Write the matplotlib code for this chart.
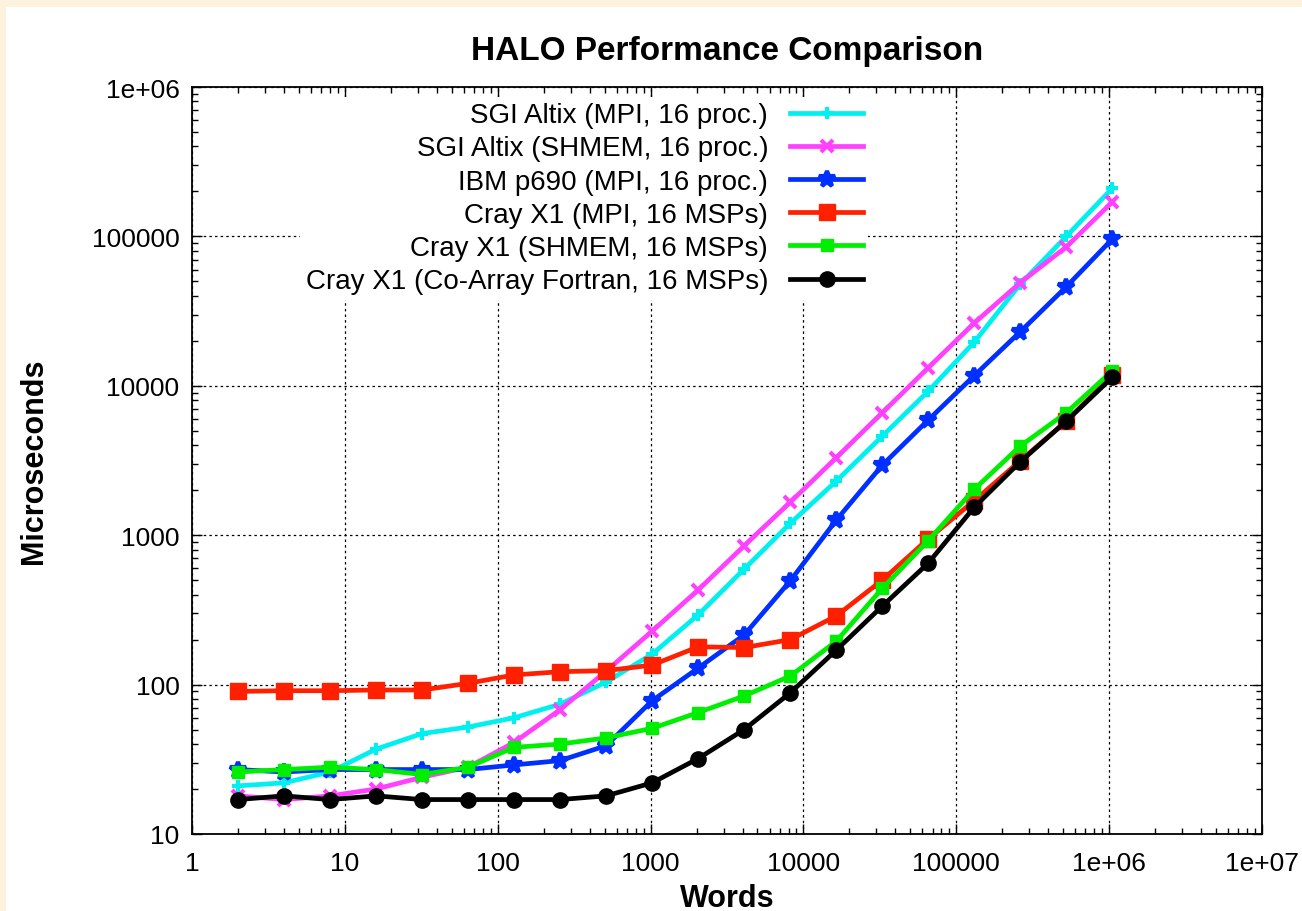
import numpy as np
import matplotlib.pyplot as plt
from matplotlib.ticker import LogLocator, FixedLocator, FixedFormatter, NullFormatter
from matplotlib.patches import Rectangle

plt.rcParams['font.family'] = ['Liberation Sans', 'DejaVu Sans']

words = [2 ** k for k in range(1, 21)]

sgi_mpi = [21, 22, 26, 37, 47, 52, 60, 74, 104, 160, 293, 594, 1200, 2300,
           4600, 9200, 19600, 48000, 100000, 210000]
sgi_shmem = [18, 17, 18, 20, 24, 28, 41, 68, 123, 228, 430, 850, 1660, 3300,
             6600, 13200, 26300, 49000, 85000, 170000]
ibm_mpi = [27, 26, 27, 27, 27, 27, 29, 31, 39, 78, 129, 215, 494, 1260,
           2940, 5900, 11700, 23000, 46000, 96000]
cray_mpi = [90, 91, 91, 92, 92, 102, 116, 122, 124, 135, 179, 177, 200, 288,
            500, 945, 1700, 3150, 5800, 11800]
cray_shmem = [26, 27, 28, 27, 25, 28, 38, 40, 44, 51, 65, 84, 114, 195,
              440, 920, 2030, 3950, 6600, 12600]
cray_caf = [17, 18, 17, 18, 17, 17, 17, 17, 18, 22, 32, 50, 88, 170,
            335, 650, 1540, 3100, 5800, 11400]

labels = ["SGI Altix (MPI, 16 proc.)",
          "SGI Altix (SHMEM, 16 proc.)",
          "IBM p690 (MPI, 16 proc.)",
          "Cray X1 (MPI, 16 MSPs)",
          "Cray X1 (SHMEM, 16 MSPs)",
          "Cray X1 (Co-Array Fortran, 16 MSPs)"]
colors = ["#00f0f0", "#ff40ff", "#0030ff", "#ff2000", "#00ee00", "#000000"]
markers = ["+", "x", "*", "s", "s", "o"]
msizes = [9, 9, 12, 12, 8, 11]
series = [sgi_mpi, sgi_shmem, ibm_mpi, cray_mpi, cray_shmem, cray_caf]

xticks = [1, 10, 100, 1000, 10000, 100000, 1e6, 1e7]
xticklabels = ["1", "10", "100", "1000", "10000", "100000", "1e+06", "1e+07"]
yticks = [10, 100, 1000, 10000, 100000, 1e6]
yticklabels = ["10", "100", "1000", "10000", "100000", "1e+06"]

fig = plt.figure(figsize=(13.02, 9.12), dpi=100)
fig.patch.set_facecolor("#fdf2de")
fig.patches.append(Rectangle((6 / 1302, 0), 1, 1 - 8 / 912, transform=fig.transFigure,
                             facecolor="white", edgecolor="none", zorder=-10))

ax = fig.add_axes([192 / 1302, 1 - 835 / 912, (1262 - 192) / 1302, (835 - 88) / 912])
ax.set_zorder(1)
ax.set_xscale("log")
ax.set_yscale("log")

for ys, lab, c, m, ms in zip(series, labels, colors, markers, msizes):
    ax.plot(words, ys, color=c, lw=3.4, marker=m, ms=ms, mew=3 if m in "+x*" else 1,
            mec=c, mfc=c, label=lab)

ax.set_xlim(1, 1e7)
ax.set_ylim(10, 1e6)
ax.xaxis.set_major_locator(FixedLocator(xticks))
ax.xaxis.set_major_formatter(FixedFormatter(xticklabels))
ax.yaxis.set_major_locator(FixedLocator(yticks))
ax.yaxis.set_major_formatter(FixedFormatter(yticklabels))
ax.xaxis.set_minor_locator(LogLocator(base=10, subs=np.arange(2, 10), numticks=20))
ax.yaxis.set_minor_locator(LogLocator(base=10, subs=np.arange(2, 10), numticks=20))
ax.xaxis.set_minor_formatter(NullFormatter())
ax.yaxis.set_minor_formatter(NullFormatter())
ax.tick_params(which="both", direction="in", top=True, right=True, labelsize=19)
ax.tick_params(which="major", length=7, width=1)
ax.tick_params(which="minor", length=4, width=1)
ax.tick_params(axis="x", pad=12)
ax.tick_params(axis="y", pad=9)
ax.grid(True, which="major", color="black", ls=(0, (2, 2.5)), lw=0.9)
for s in ax.spines.values():
    s.set_linewidth(1.3)

ax.set_title("HALO Performance Comparison", fontsize=24, fontweight="bold", pad=20)
ax.set_xlabel("Words", fontsize=22, fontweight="bold", labelpad=6)
ax.set_ylabel("Microseconds", fontsize=22, fontweight="bold", labelpad=31)

leg = ax.legend(loc="upper right", bbox_to_anchor=(0.632, 0.987), markerfirst=False,
                fontsize=20, handlelength=2.6, labelspacing=0.26, handletextpad=0.8,
                borderaxespad=0, borderpad=0.2, frameon=True, fancybox=False,
                framealpha=1)
leg.get_frame().set_edgecolor("none")
leg.get_frame().set_facecolor("white")
for t in leg.get_texts():
    t.set_ha("right")
leg._legend_box.align = "right"

fig.savefig("out.png", dpi=100, facecolor=fig.get_facecolor())
